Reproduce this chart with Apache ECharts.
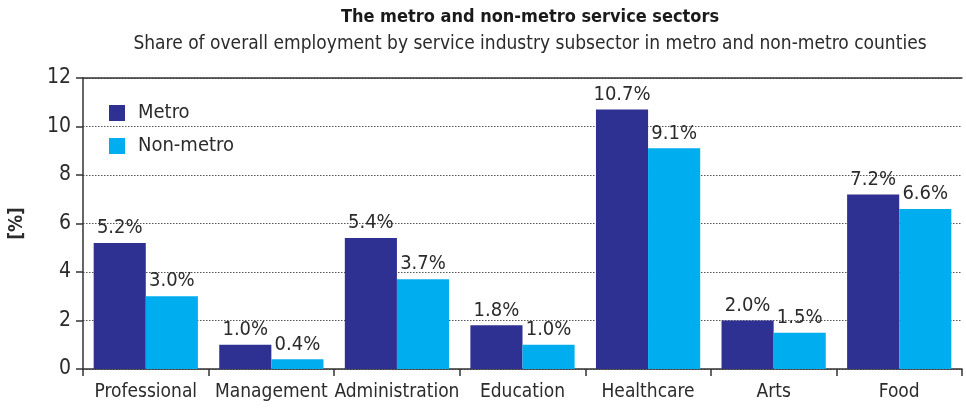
<!DOCTYPE html>
<html>
<head>
<meta charset="utf-8">
<script src="https://cdn.jsdelivr.net/npm/echarts@6/dist/echarts.min.js"></script>
<style>
  html, body { margin: 0; padding: 0; background: #fff; }
  #chart { width: 966px; height: 408px; }
</style>
</head>
<body>
<div id="chart"></div>
<script>
// Service industry subsectors and employment shares (%)
const categories = ['Professional', 'Management', 'Administration', 'Education', 'Healthcare', 'Arts', 'Food'];
const metroShare = [5.2, 1.0, 5.4, 1.8, 10.7, 2.0, 7.2];
const nonMetroShare = [3.0, 0.4, 3.7, 1.0, 9.1, 1.5, 6.6];
const yTicks = [0, 2, 4, 6, 8, 10, 12];

const FONT = '"Liberation Sans Narrow", "DejaVu Sans Condensed", "Roboto", sans-serif';
const TEXT = '#2b2b2b';

const chart = echarts.init(document.getElementById('chart'), null, { renderer: 'canvas' });

const pctLabel = {
  show: true,
  position: 'top',
  distance: 5,
  fontFamily: FONT,
  fontSize: 20,
  color: TEXT,
  formatter: p => p.value.toFixed(1) + '%'
};

chart.setOption({
  animation: false,
  textStyle: { fontFamily: FONT },
  title: {
    text: 'The metro and non-metro service sectors',
    subtext: 'Share of overall employment by service industry subsector in metro and non-metro counties',
    left: 525,
    textAlign: 'center',
    top: 3,
    itemGap: 9,
    textStyle: { fontFamily: FONT, fontSize: 18, fontWeight: 'bold', color: '#1a1a1a' },
    subtextStyle: { fontFamily: FONT, fontSize: 19, color: TEXT }
  },
  legend: {
    orient: 'vertical',
    left: 104,
    top: 98,
    itemWidth: 16,
    itemHeight: 16,
    itemGap: 13,
    icon: 'rect',
    textStyle: { fontFamily: FONT, fontSize: 20, color: TEXT, padding: [0, 0, 0, 8] },
    data: ['Metro', 'Non-metro']
  },
  grid: { left: 79, right: 4, top: 78, bottom: 39, containLabel: false },
  xAxis: [{
    type: 'category',
    data: categories,
    axisLine: { lineStyle: { color: '#333', width: 1.5 } },
    axisTick: { show: true, alignWithLabel: false, length: 7, inside: false, lineStyle: { color: '#333', width: 1.5 } },
    axisLabel: { fontFamily: FONT, fontSize: 19, color: TEXT, margin: 14, interval: 0 }
  }, {
    // solid frame line along the top of the plot
    type: 'category',
    position: 'top',
    data: categories,
    axisLine: { show: true, lineStyle: { color: '#333', width: 1.5 } },
    axisTick: { show: false },
    axisLabel: { show: false }
  }],
  yAxis: {
    type: 'value',
    min: yTicks[0],
    max: yTicks[yTicks.length - 1],
    interval: 2,
    name: '[%]',
    nameLocation: 'middle',
    nameGap: 56,
    nameRotate: 90,
    nameTextStyle: { fontFamily: FONT, fontSize: 19, fontWeight: 'bold', color: TEXT },
    axisLine: { show: true, lineStyle: { color: '#333', width: 1.5 } },
    axisTick: { show: true, length: 7, lineStyle: { color: '#333', width: 1.5 } },
    axisLabel: { fontFamily: FONT, fontSize: 21, color: TEXT, margin: 12 },
    splitLine: {
      show: true,
      lineStyle: { color: '#555', width: 1, type: [1.5, 1.5] }
    }
  },
  series: [{
    name: 'Metro',
    type: 'bar',
    data: metroShare,
    barGap: '0%',
    barCategoryGap: '17%',
    itemStyle: { color: '#2e3192' },
    label: pctLabel
  }, {
    name: 'Non-metro',
    type: 'bar',
    data: nonMetroShare,
    itemStyle: { color: '#00aeef' },
    label: pctLabel
  }]
});
</script>
</body>
</html>
